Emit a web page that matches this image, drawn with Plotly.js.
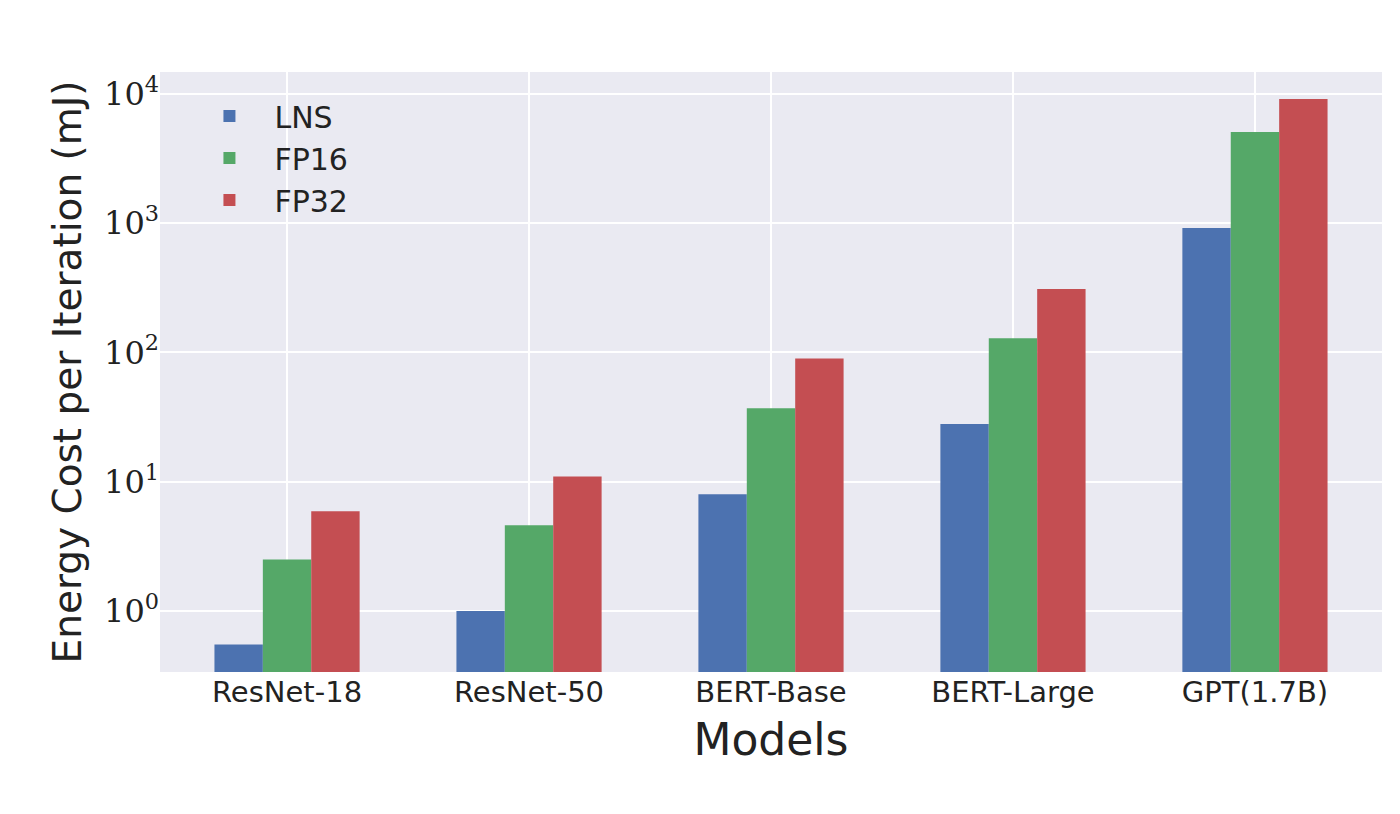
<!DOCTYPE html>
<html>
<head>
<meta charset="utf-8">
<script src="https://cdn.plot.ly/plotly-3.0.1.min.js"></script>
<style>html,body{margin:0;padding:0;background:#fff;}</style>
</head>
<body>
<div id="chart" style="width:1400px;height:814px;"></div>
<script>
const models = ["ResNet-18", "ResNet-50", "BERT-Base", "BERT-Large", "GPT(1.7B)"];
const lns = [0.55, 1.0, 8.0, 28, 920];
const fp16 = [2.5, 4.6, 37, 129, 5070];
const fp32 = [5.9, 11, 90, 310, 9150];
const yTickVals = [1, 10, 100, 1000, 10000];
const yTickText = ["10<sup>0</sup>", "10<sup>1</sup>", "10<sup>2</sup>", "10<sup>3</sup>", "10<sup>4</sup>"];

const traces = [
    {x: models, y: lns, name: "LNS", type: "bar", marker: {color: "#4C72B0"}},
    {x: models, y: fp16, name: "FP16", type: "bar", marker: {color: "#55A868"}},
    {x: models, y: fp32, name: "FP32", type: "bar", marker: {color: "#C44E52"}}
];

Plotly.newPlot("chart", traces, {
    width: 1400, height: 814,
    margin: {l: 160, r: 18, t: 72, b: 142},
    paper_bgcolor: "#ffffff",
    plot_bgcolor: "#EAEAF2",
    barmode: "group",
    bargap: 0.4,
    bargroupgap: 0,
    font: {family: "'DejaVu Sans', sans-serif", color: "#222"},
    xaxis: {
        type: "category",
        range: [-0.525, 4.525],
        showgrid: true, gridcolor: "#ffffff", gridwidth: 2,
        ticks: "", tickfont: {size: 29},
        zeroline: false,
        title: {text: "Models", font: {size: 44}, standoff: 16}
    },
    yaxis: {
        type: "log",
        range: [-0.472, 4.17],
        tickvals: yTickVals, ticktext: yTickText,
        showgrid: true, gridcolor: "#ffffff", gridwidth: 2,
        ticks: "", tickfont: {size: 32, family: "'DejaVu Serif', 'Liberation Serif', serif"},
        zeroline: false,
        title: {text: "Energy Cost per Iteration (mJ)", font: {size: 39}, standoff: 10}
    },
    legend: {
        x: 0.02, y: 0.97, xanchor: "left", yanchor: "top",
        bgcolor: "rgba(0,0,0,0)",
        font: {size: 30},
        itemwidth: 80,
        itemsizing: "constant",
        tracegroupgap: 10
    }
}, {displayModeBar: false});
</script>
</body>
</html>
